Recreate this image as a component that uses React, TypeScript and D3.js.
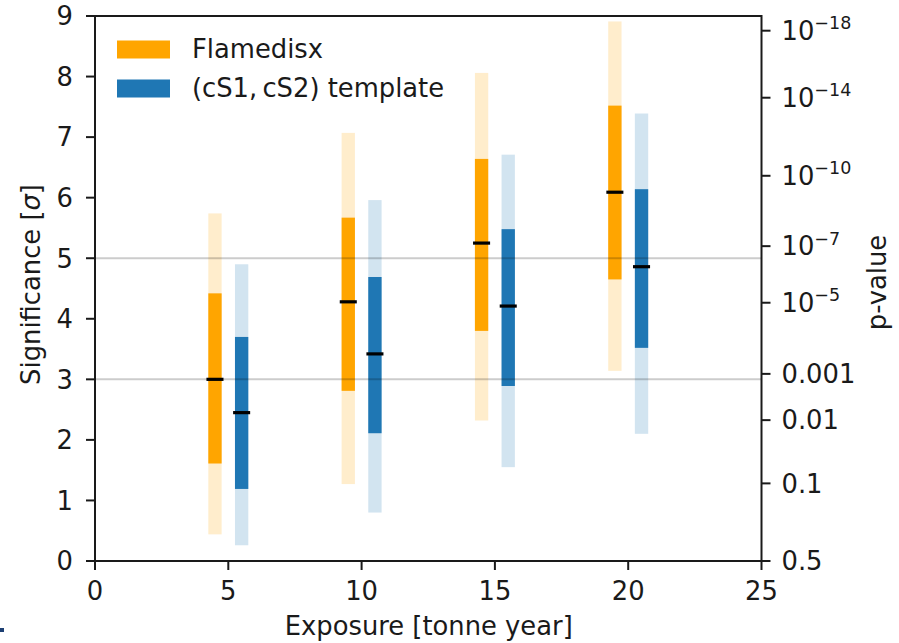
import React from "react";
import * as d3 from "d3";

// exposure [tonne year] of each pair of bars
const exposures = [5, 10, 15, 20];

// Flamedisx: median significance and 1/2 sigma bands
const flameMedian = [3.0, 4.28, 5.25, 6.09];
const flameLo1 = [1.61, 2.81, 3.8, 4.65];
const flameHi1 = [4.42, 5.67, 6.64, 7.52];
const flameLo2 = [0.44, 1.27, 2.32, 3.14];
const flameHi2 = [5.74, 7.07, 8.06, 8.91];

// (cS1, cS2) template
const templMedian = [2.45, 3.42, 4.21, 4.86];
const templLo1 = [1.19, 2.11, 2.89, 3.52];
const templHi1 = [3.7, 4.69, 5.48, 6.14];
const templLo2 = [0.26, 0.8, 1.55, 2.1];
const templHi2 = [4.9, 5.96, 6.71, 7.39];

const xTicks = [0, 5, 10, 15, 20, 25];
const yTicks = [0, 1, 2, 3, 4, 5, 6, 7, 8, 9];
const refLines = [3, 5];

// p-value ticks on the right axis, placed at their one-sided sigma
const pTickSigma = [0, 1.2816, 2.3263, 3.0902, 4.2649, 5.1993, 6.3613, 7.6506, 8.7573];
const pTickBase = ["0.5", "0.1", "0.01", "0.001", "10", "10", "10", "10", "10"];
const pTickExp = ["", "", "", "", "\u22125", "\u22127", "\u221210", "\u221214", "\u221218"];

const ORANGE = "#ffa500";
const BLUE = "#1f77b4";
const FONT = "'DejaVu Sans', sans-serif";
const TEXT = "#1a1a1a";
const FS = 25.8;

export default function App() {
  const width = 899;
  const height = 643;
  const left = 95;
  const right = 761.5;
  const top = 16;
  const bottom = 561;

  const x = d3.scaleLinear().domain([0, 25]).range([left, right]);
  const y = d3.scaleLinear().domain([0, 9]).range([bottom, top]);

  const series = [
    { color: ORANGE, off: -0.5, med: flameMedian, lo1: flameLo1, hi1: flameHi1, lo2: flameLo2, hi2: flameHi2 },
    { color: BLUE, off: 0.5, med: templMedian, lo1: templLo1, hi1: templHi1, lo2: templLo2, hi2: templHi2 },
  ];
  const halfW = 0.25;
  const halfMed = 0.32;

  return (
    <svg
      width={width}
      height={height}
      style={{ position: "absolute", left: 0, top: 0, background: "#fff" }}
      fontFamily={FONT}
    >
      <rect width={width} height={height} fill="#fff" />

      {/* bars */}
      {series.map((s, si) => (
        <g key={si}>
          {exposures.map((e, i) => {
            const cx = e + s.off;
            return (
              <g key={i}>
                <rect
                  x={x(cx - halfW)}
                  width={x(cx + halfW) - x(cx - halfW)}
                  y={y(s.hi2[i])}
                  height={y(s.lo2[i]) - y(s.hi2[i])}
                  fill={s.color}
                  fillOpacity={0.2}
                />
                <rect
                  x={x(cx - halfW)}
                  width={x(cx + halfW) - x(cx - halfW)}
                  y={y(s.hi1[i])}
                  height={y(s.lo1[i]) - y(s.hi1[i])}
                  fill={s.color}
                />
              </g>
            );
          })}
        </g>
      ))}

      {/* reference lines at 3 and 5 sigma */}
      {refLines.map((v) => (
        <line key={v} x1={left} x2={right} y1={y(v)} y2={y(v)} stroke="#000" strokeOpacity={0.2} strokeWidth={2} />
      ))}

      {/* medians */}
      {series.map((s, si) => (
        <g key={"m" + si}>
          {exposures.map((e, i) => {
            const cx = e + s.off;
            return (
              <line
                key={i}
                x1={x(cx - halfMed)}
                x2={x(cx + halfMed)}
                y1={y(s.med[i])}
                y2={y(s.med[i])}
                stroke="#000"
                strokeWidth={3.2}
              />
            );
          })}
        </g>
      ))}

      {/* frame */}
      <rect x={left} y={top} width={right - left} height={bottom - top} fill="none" stroke={TEXT} strokeWidth={2} />

      {/* x axis */}
      {xTicks.map((t) => (
        <g key={t}>
          <line x1={x(t)} x2={x(t)} y1={bottom} y2={bottom + 9} stroke={TEXT} strokeWidth={2} />
          <text x={x(t)} y={bottom + 39} textAnchor="middle" fontSize={FS} fill={TEXT}>
            {t}
          </text>
        </g>
      ))}
      <text x={(left + right) / 2 + 0.5} y={635} textAnchor="middle" fontSize={FS} fill={TEXT}>
        Exposure [tonne year]
      </text>

      {/* left y axis */}
      {yTicks.map((t) => (
        <g key={t}>
          <line x1={left - 9} x2={left} y1={y(t)} y2={y(t)} stroke={TEXT} strokeWidth={2} />
          <text x={left - 22} y={y(t)} dy="0.36em" textAnchor="end" fontSize={FS} fill={TEXT}>
            {t}
          </text>
        </g>
      ))}
      <text
        transform={`translate(${40},${(top + bottom) / 2 - 4}) rotate(-90)`}
        textAnchor="middle"
        fontSize={FS}
        fill={TEXT}
      >
        Significance [<tspan fontStyle="italic">σ</tspan>]
      </text>

      {/* right p-value axis */}
      {pTickSigma.map((t, i) => (
        <g key={i}>
          <line x1={right} x2={right + 9} y1={y(t)} y2={y(t)} stroke={TEXT} strokeWidth={2} />
          <text x={right + 20} y={y(t)} dy="0.36em" fontSize={FS} fill={TEXT}>
            {pTickBase[i]}
            {pTickExp[i] && (
              <tspan fontSize={17.5} dy="-0.62em">
                {pTickExp[i]}
              </tspan>
            )}
          </text>
        </g>
      ))}
      <text
        transform={`translate(${886},${(top + bottom) / 2 - 6}) rotate(-90)`}
        textAnchor="middle"
        fontSize={FS}
        fill={TEXT}
      >
        p-value
      </text>

      {/* legend */}
      <rect x={117} y={40.5} width={53} height={18} fill={ORANGE} />
      <text x={192} y={58} fontSize={FS} fill={TEXT}>
        Flamedisx
      </text>
      <rect x={117} y={79.5} width={53} height={18} fill={BLUE} />
      <text x={192} y={97} fontSize={FS} fill={TEXT}>
        (cS1,{"\u2009"}cS2) template
      </text>

      {/* small slide mark bottom left */}
      <rect x={0} y={628} width={4} height={4} fill="#1d3f73" />
    </svg>
  );
}
